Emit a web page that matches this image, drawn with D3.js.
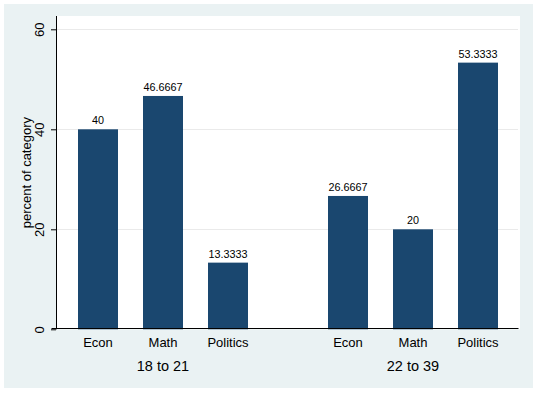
<!DOCTYPE html>
<html>
<head>
<meta charset="utf-8">
<script src="https://cdn.jsdelivr.net/npm/d3@7"></script>
<style>
  html, body { margin: 0; padding: 0; background: #ffffff; }
  svg { display: block; }
  text { font-family: Arial, "Liberation Sans", sans-serif; fill: #000; }
</style>
</head>
<body>
<div id="chart"></div>
<script>
// ---- data ----
const groups = ["18 to 21", "22 to 39"];
const categories = ["Econ", "Math", "Politics"];
const values18to21 = [40, 46.6667, 13.3333];
const values22to39 = [26.6667, 20, 53.3333];
const yTicks = [0, 20, 40, 60];
const yTitle = "percent of category";

const seriesByGroup = { "18 to 21": values18to21, "22 to 39": values22to39 };
const data = [];
groups.forEach(g => categories.forEach((c, i) => data.push({ group: g, cat: c, value: seriesByGroup[g][i] })));

// ---- layout ----
const W = 537, H = 393;
const plot = { left: 56, right: 520, top: 16, bottom: 329.3 };

const svg = d3.select("#chart").append("svg").attr("width", W).attr("height", H);

// graph region background
svg.append("rect").attr("x", 4).attr("y", 4).attr("width", 529).attr("height", 384).attr("fill", "#EAF2F3");
// plot region
svg.append("rect").attr("x", plot.left).attr("y", plot.top)
  .attr("width", plot.right - plot.left).attr("height", plot.bottom - plot.top).attr("fill", "#ffffff");

const y = d3.scaleLinear().domain([0, 60]).range([plot.bottom, 29.3]);

const x0 = d3.scaleBand().domain(groups).range([plot.left, plot.right])
  .paddingInner(0.22).paddingOuter(0.038);
const x1 = d3.scaleBand().domain(categories).range([0, x0.bandwidth()])
  .paddingInner(25 / 65).paddingOuter(12.5 / 65);

// gridlines
svg.append("g").selectAll("line").data(yTicks.filter(t => t > 0)).join("line")
  .attr("x1", plot.left + 1).attr("x2", plot.right - 2)
  .attr("y1", d => Math.round(y(d)) + 0.5).attr("y2", d => Math.round(y(d)) + 0.5)
  .attr("stroke", "#EAEAEA").attr("stroke-width", 1);

// bars
svg.append("g").selectAll("rect").data(data).join("rect")
  .attr("x", d => x0(d.group) + x1(d.cat))
  .attr("width", x1.bandwidth())
  .attr("y", d => y(d.value))
  .attr("height", d => y(0) - y(d.value))
  .attr("fill", "#1A476F");

// value labels
const fmt = d3.format(".6~g");
svg.append("g").selectAll("text").data(data).join("text")
  .attr("x", d => x0(d.group) + x1(d.cat) + x1.bandwidth() / 2)
  .attr("y", d => y(d.value) - 5)
  .attr("text-anchor", "middle")
  .attr("font-size", "10.8px")
  .text(d => fmt(d.value));

// y axis
const yAxis = d3.axisLeft(y).tickValues(yTicks).tickSize(5).tickPadding(7).tickFormat(d3.format("d"));
const gy = svg.append("g").attr("transform", `translate(${plot.left},0)`).call(yAxis);
gy.select(".domain").remove();
gy.selectAll(".tick line").attr("stroke", "#000");
gy.selectAll(".tick text")
  .attr("font-size", "13px")
  .attr("font-family", "Arial, 'Liberation Sans', sans-serif")
  .attr("fill", "#000")
  .attr("text-anchor", "middle")
  .attr("dy", null)
  .attr("transform", "translate(-12,0) rotate(-90)")
  .attr("x", 0).attr("y", 0);

// y axis line
svg.append("line").attr("x1", plot.left + 0.5).attr("x2", plot.left + 0.5)
  .attr("y1", plot.top).attr("y2", plot.bottom).attr("stroke", "#000");
// x axis line
svg.append("line").attr("x1", 51.5).attr("x2", 518.5)
  .attr("y1", Math.round(plot.bottom) - 0.5).attr("y2", Math.round(plot.bottom) - 0.5).attr("stroke", "#000");

// y title
svg.append("text")
  .attr("transform", `translate(30.5,${(plot.top + plot.bottom) / 2}) rotate(-90)`)
  .attr("text-anchor", "middle")
  .attr("font-size", "13px")
  .text(yTitle);

// category labels
svg.append("g").selectAll("text").data(data).join("text")
  .attr("x", d => x0(d.group) + x1(d.cat) + x1.bandwidth() / 2)
  .attr("y", 347)
  .attr("text-anchor", "middle")
  .attr("font-size", "13px")
  .text(d => d.cat);

// group labels
svg.append("g").selectAll("text").data(groups).join("text")
  .attr("x", d => x0(d) + x0.bandwidth() / 2)
  .attr("y", 370.5)
  .attr("text-anchor", "middle")
  .attr("font-size", "14.5px")
  .text(d => d);
</script>
</body>
</html>
